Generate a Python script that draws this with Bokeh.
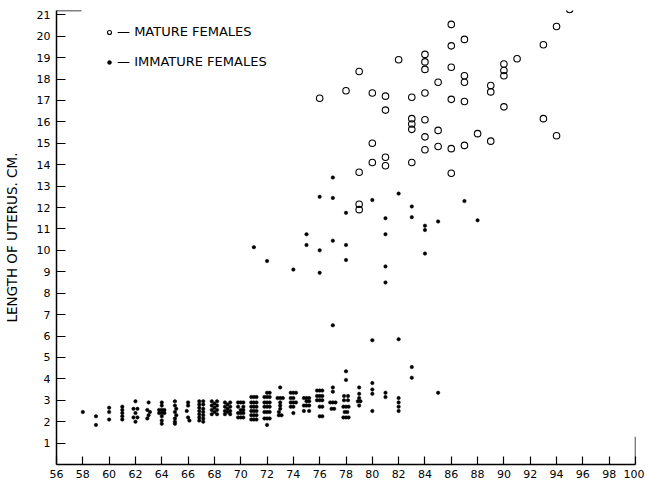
from bokeh.plotting import figure
from bokeh.models import Legend, LegendItem, FixedTicker, Range1d
from bokeh.embed import file_html
from bokeh.resources import INLINE

# ---- data ----
mature_x = [76, 78, 79, 79, 79, 79, 80, 80, 80, 81, 81, 81, 81, 82,
            83, 83, 83, 83, 83, 84, 84, 84, 84, 84, 84, 84, 85, 85, 85,
            86, 86, 86, 86, 86, 86, 87, 87, 87, 87, 87, 88, 89, 89, 89,
            90, 90, 90, 90, 91, 93, 93, 94, 94, 95]
mature_y = [17.1, 17.45, 18.35, 13.65, 12.15, 11.9, 17.35, 15.0, 14.1,
            17.2, 16.55, 14.35, 13.95, 18.9,
            17.15, 16.15, 15.9, 15.65, 14.1,
            19.15, 18.8, 18.45, 17.35, 16.1, 15.3, 14.7,
            17.85, 15.6, 14.85,
            20.55, 19.55, 18.55, 17.05, 14.75, 13.6,
            19.85, 18.15, 17.85, 16.95, 14.9,
            15.45, 17.7, 17.4, 15.1,
            18.7, 18.4, 18.15, 16.7, 18.95, 19.6, 16.15, 20.45, 15.35, 21.25]

immature_x = [
    58, 59, 59, 60, 60, 60, 61, 61, 61, 61, 61,
    62, 61.85, 62.15, 62, 61.85, 62.15, 62,
    63, 62.9, 63.1, 63, 62.9,
    64, 64, 63.8, 64, 64.2, 63.8, 64, 64.2, 64, 64, 64,
    65, 65, 65.1, 65, 65.1, 65, 65, 65,
    66, 66, 65.9, 66, 66.1,
    66.85, 66.85, 66.85, 66.85, 66.85, 66.85, 66.85,
    67.15, 67.15, 67.15, 67.15, 67.15, 67.15, 67.15,
    67.8, 67.8, 67.8, 67.8, 68.0, 68.0, 68.0, 68.2, 68.2, 68.2, 68.2,
    68.8, 68.8, 68.8, 68.8, 69.0, 69.0, 69.0, 69.2, 69.2, 69.2, 69.2,
    69.8, 69.8, 69.8, 69.8, 70.0, 70.0, 70.0, 70.0, 70.2, 70.2, 70.2, 70.2, 70.2,
    70.8, 70.8, 70.8, 70.8, 70.8, 70.8, 71.0, 71.0, 71.0, 71.0, 71.0, 71.0,
    71.2, 71.2, 71.2, 71.2, 71.2, 71.2,
    71.8, 71.8, 71.8, 71.8, 71.8, 72.0, 72.0, 72.0, 72.0, 72.0, 72.0, 72.0,
    72.2, 72.2, 72.2, 72.2, 72.2, 72.2,
    73.0, 72.8, 73.0, 73.2, 73.0, 73.0, 73.0, 72.9, 72.9, 73.1,
    73.8, 73.8, 73.8, 73.8, 74.0, 74.0, 74.0, 74.0, 74.0, 74.2, 74.2,
    74.8, 74.8, 74.8, 75.0, 75.0, 75.0, 75.2, 75.2, 75.2, 75.2,
    75.8, 75.8, 75.8, 76.0, 76.0, 76.0, 76.0, 76.0, 76.2, 76.2, 76.2, 76.2, 76.2,
    77.0, 77.0, 76.8, 77.0, 77.2, 76.9, 77.1,
    78.0, 78.0, 77.85, 78.15, 77.85, 78.15, 77.8, 78.0, 78.2, 77.9, 78.1, 77.8, 78.0, 78.2,
    79, 79, 79, 78.9, 79.1, 79,
    80, 80, 80, 80, 81, 81, 82, 82, 82, 82, 83, 83, 85,
    # scattered higher values
    71, 72, 74, 75, 75, 76, 76, 76, 77, 77, 77, 77, 78, 78, 78,
    80, 80, 81, 81, 81, 81, 82, 82, 83, 83, 84, 84, 84, 85, 87, 88]
immature_y = [
    2.45, 2.25, 1.85, 2.65, 2.45, 2.1, 2.7, 2.55, 2.4, 2.25, 2.1,
    2.95, 2.6, 2.6, 2.4, 2.2, 2.2, 2.0,
    2.9, 2.55, 2.45, 2.3, 2.15,
    2.9, 2.75, 2.55, 2.55, 2.55, 2.4, 2.4, 2.4, 2.25, 2.05, 1.9,
    2.95, 2.75, 2.6, 2.45, 2.3, 2.15, 2.0, 1.9,
    2.9, 2.75, 2.5, 2.2, 2.05,
    2.95, 2.8, 2.65, 2.5, 2.35, 2.2, 2.05,
    2.95, 2.8, 2.6, 2.45, 2.3, 2.15, 2.0,
    2.95, 2.75, 2.55, 2.35, 2.85, 2.65, 2.45, 2.95, 2.75, 2.55, 2.35,
    2.9, 2.7, 2.5, 2.35, 2.8, 2.6, 2.45, 2.9, 2.7, 2.5, 2.35,
    2.9, 2.7, 2.4, 2.2, 2.9, 2.55, 2.4, 2.2, 2.9, 2.7, 2.55, 2.4, 2.2,
    3.15, 2.9, 2.7, 2.5, 2.3, 2.1, 3.15, 2.9, 2.7, 2.5, 2.3, 2.1,
    3.15, 2.9, 2.7, 2.5, 2.3, 2.1,
    3.15, 2.9, 2.7, 2.45, 2.15, 3.35, 3.15, 2.9, 2.7, 2.45, 2.15, 1.85,
    3.35, 3.15, 2.9, 2.7, 2.45, 2.15,
    3.6, 3.1, 3.1, 3.1, 2.9, 2.75, 2.6, 2.45, 2.3, 2.3,
    3.35, 3.1, 2.9, 2.7, 3.35, 3.1, 2.9, 2.7, 2.4, 3.35, 2.9,
    3.1, 2.75, 2.5, 3.1, 2.95, 2.75, 3.1, 2.95, 2.75, 2.5,
    3.45, 3.2, 3.0, 3.45, 3.2, 3.0, 2.7, 2.25, 3.45, 3.2, 3.0, 2.7, 2.25,
    3.6, 3.4, 2.9, 2.9, 2.9, 2.6, 2.6,
    4.35, 3.95, 3.2, 3.2, 3.0, 3.0, 2.7, 2.7, 2.7, 2.45, 2.45, 2.2, 2.2, 2.2,
    3.6, 3.3, 3.1, 2.95, 2.95, 2.75,
    3.8, 3.5, 3.3, 2.5, 3.35, 3.15, 3.1, 2.9, 2.7, 2.5, 4.55, 4.05, 3.35,
    10.15, 9.5, 9.1, 10.75, 10.25, 12.5, 10.0, 8.95, 13.4, 12.45, 10.45, 6.5,
    11.75, 10.25, 9.55,
    12.35, 5.8, 11.5, 10.75, 9.25, 8.5, 12.65, 5.85, 12.05, 11.55,
    11.15, 10.95, 9.85, 11.35, 12.3, 11.4]

x_ticks = list(range(56, 101, 2))
y_ticks = list(range(1, 22))

FONT = "DejaVu Sans"

p = figure(width=644, height=482, output_backend="svg", toolbar_location=None,
           x_range=Range1d(56, 100), y_range=Range1d(0, 21.2),
           min_border_left=54, min_border_right=9, min_border_top=10,
           min_border_bottom=18)
p.outline_line_color = None
p.grid.visible = False
p.background_fill_color = "white"
p.border_fill_color = "white"

# axes
for ax in (p.xaxis[0], p.yaxis[0]):
    ax.axis_line_color = "black"
    ax.axis_line_width = 1.5
    ax.major_tick_line_color = "black"
    ax.major_tick_line_width = 1.2
    ax.minor_tick_line_color = None
    ax.major_tick_out = 0
    ax.major_label_text_font = FONT
    ax.major_label_text_color = "black"
    ax.major_label_text_font_size = "11px"

p.xaxis.ticker = FixedTicker(ticks=x_ticks)
p.xaxis.major_tick_in = 8
p.xaxis.major_label_standoff = 5
p.yaxis.ticker = FixedTicker(ticks=y_ticks)
p.yaxis.major_tick_in = 9
p.yaxis.major_label_standoff = 6
p.yaxis.axis_label = "LENGTH OF UTERUS. CM."
p.yaxis.axis_label_text_font = FONT
p.yaxis.axis_label_text_font_style = "normal"
p.yaxis.axis_label_text_font_size = "13.5px"
p.yaxis.axis_label_text_color = "black"
p.yaxis.axis_label_standoff = 14

# frame stubs (top left and right edge)
p.segment(x0=[56, 100], y0=[21.2, 0], x1=[57.9, 100], y1=[21.2, 1.3],
          line_color="black", line_width=1.4)

r_mat = p.scatter(mature_x, mature_y, marker="circle", size=6.5,
                  fill_color=None, line_color="black", line_width=1.1)
r_imm = p.scatter(immature_x, immature_y, marker="circle", size=3.5,
                  fill_color="black", line_color="black", line_width=0.5)

legend = Legend(items=[LegendItem(label="— MATURE FEMALES", renderers=[r_mat]),
                       LegendItem(label="— IMMATURE FEMALES", renderers=[r_imm])],
                location=(48, 395), orientation="vertical",
                padding=0, margin=0, spacing=15,
                glyph_width=10, glyph_height=14, label_standoff=3,
                label_text_font=FONT, label_text_font_size="13px",
                label_text_color="black",
                border_line_color=None, background_fill_alpha=0)
p.add_layout(legend)

open("out.html", "w").write(file_html(p, INLINE))
